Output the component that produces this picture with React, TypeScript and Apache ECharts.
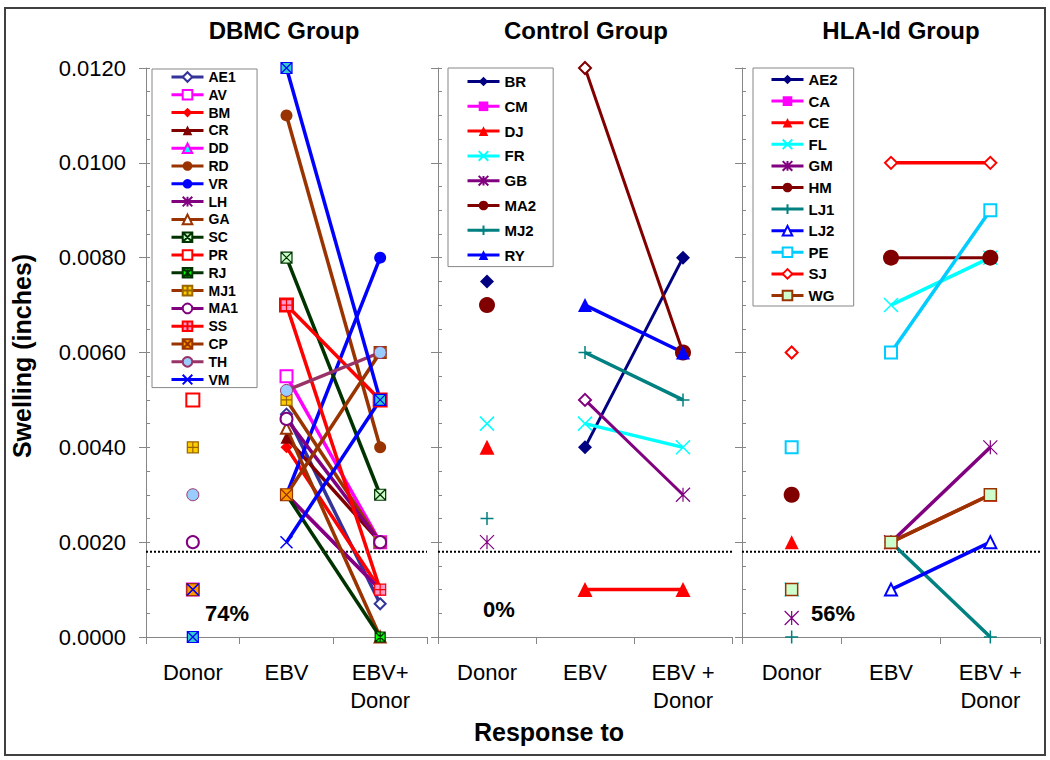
import React, { useEffect, useRef } from 'react';
import * as echarts from 'echarts';

// ---------------- data ----------------
const categoriesDBMC = ['Donor', 'EBV', 'EBV+\nDonor'];
const categoriesOther = ['Donor', 'EBV', 'EBV +\nDonor'];
const groupTitles = ['DBMC Group', 'Control Group', 'HLA-Id Group'];
const responseRates = ['74%', '0%', '56%'];
const threshold = 0.0018;
const yMin = 0;
const yMax = 0.012;
const yInterval = 0.002;

const dbmcNames = ['AE1', 'AV', 'BM', 'CR', 'DD', 'RD', 'VR', 'LH', 'GA', 'SC', 'PR', 'RJ', 'MJ1', 'MA1', 'SS', 'CP', 'TH', 'VM', 'unlisted'];
const dbmcDonor = [null, 0.001, null, null, 0, null, null, 0, null, null, 0.005, 0, 0.004, 0.002, null, 0.001, 0.003, 0.001, 0];
const dbmcEbv = [0.0047, 0.0055, 0.004, 0.0042, 0.003, 0.011, 0.003, 0.003, 0.0044, 0.008, 0.007, 0.003, 0.005, 0.0046, 0.007, 0.003, 0.0052, 0.002, 0.012];
const dbmcEbvDonor = [0.0007, 0.002, 0.001, 0.002, 0.001, 0.004, 0.008, 0.001, 0, 0.003, 0.005, 0, 0.002, 0.002, 0.001, 0.006, 0.006, 0.005, 0.005];

const ctrlNames = ['BR', 'CM', 'DJ', 'FR', 'GB', 'MA2', 'MJ2', 'RY'];
const ctrlDonor = [0.0075, null, 0.004, 0.0045, 0.002, 0.007, 0.0025, null];
const ctrlEbv = [0.004, null, 0.001, 0.0045, 0.005, 0.012, 0.006, 0.007];
const ctrlEbvDonor = [0.008, null, 0.001, 0.004, 0.003, 0.006, 0.005, 0.006];

const hlaNames = ['AE2', 'CA', 'CE', 'FL', 'GM', 'HM', 'LJ1', 'LJ2', 'PE', 'SJ', 'WG'];
const hlaDonor = [null, null, 0.002, 0.001, 0.0004, 0.003, 0, null, 0.004, 0.006, 0.001];
const hlaEbv = [null, null, 0.002, 0.007, 0.002, 0.008, 0.002, 0.001, 0.006, 0.01, 0.002];
const hlaEbvDonor = [null, null, 0.003, 0.008, 0.004, 0.008, 0, 0.002, 0.009, 0.01, 0.003];

// ---------------- styles ----------------
const FONT = '"Liberation Sans", Arial, Helvetica, sans-serif';
const X = 'path://M0,0L10,10M10,0L0,10';
const PLUS = 'path://M5,0L5,10M0,5L10,5';
const STAR = 'path://M0,0L10,10M10,0L0,10M5,0L5,10';
const BOX_X = 'path://M0,0L10,0L10,10L0,10ZM0,0L10,10M10,0L0,10';
const BOX_PLUS = 'path://M0,0L10,0L10,10L0,10ZM5,0L5,10M0,5L10,5';
const BOX_STAR = 'path://M0,0L10,0L10,10L0,10ZM0,0L10,10M10,0L0,10M5,0L5,10';

type St = { line: string; symbol: string; size: number; fill?: string; border?: string; bw?: number; width?: number; ebvSymbol?: string; ebvSize?: number };

const styles: Record<string, St> = {
  AE1: { line: '#333399', symbol: 'emptyDiamond', size: 11 },
  AV: { line: '#FF00FF', symbol: 'emptyRect', size: 12 },
  BM: { line: '#FF0000', symbol: 'diamond', size: 12 },
  CR: { line: '#800000', symbol: 'triangle', size: 12 },
  DD: { line: '#FF00FF', symbol: 'triangle', size: 11, fill: '#00FFFF', border: '#FF00FF', bw: 1 },
  RD: { line: '#993300', symbol: 'circle', size: 12 },
  VR: { line: '#0000FF', symbol: 'circle', size: 12 },
  LH: { line: '#800080', symbol: STAR, size: 11, bw: 1.5 },
  GA: { line: '#993300', symbol: 'emptyTriangle', size: 11 },
  SC: { line: '#003300', symbol: BOX_X, size: 11, fill: '#CCFFCC', border: '#003300', bw: 1.2 },
  PR: { line: '#FF0000', symbol: 'emptyRect', size: 13 },
  RJ: { line: '#003300', symbol: BOX_STAR, size: 10, fill: '#00FF00', border: '#003300', bw: 1.2 },
  MJ1: { line: '#993300', symbol: BOX_PLUS, size: 11, fill: '#FFCC00', border: '#996600', bw: 1.2 },
  MA1: { line: '#800080', symbol: 'emptyCircle', size: 12 },
  SS: { line: '#FF0000', symbol: BOX_PLUS, size: 11, fill: '#FF99CC', border: '#FF0000', bw: 1.2 },
  CP: { line: '#993300', symbol: BOX_X, size: 12, fill: '#FF9900', border: '#993300', bw: 1.2 },
  TH: { line: '#993366', symbol: 'circle', size: 12, fill: '#99CCFF', border: '#993366', bw: 1 },
  VM: { line: '#0000FF', symbol: X, size: 12, bw: 1.5 },
  unlisted: { line: '#0000FF', symbol: BOX_X, size: 11, fill: '#33CCCC', border: '#0000FF', bw: 1.2 },

  BR: { line: '#000080', symbol: 'diamond', size: 14, width: 3 },
  CM: { line: '#FF00FF', symbol: 'rect', size: 11 },
  DJ: { line: '#FF0000', symbol: 'triangle', size: 15 },
  FR: { line: '#00FFFF', symbol: X, size: 14, bw: 1.5 },
  GB: { line: '#800080', symbol: STAR, size: 14, bw: 1.2, width: 3, ebvSymbol: 'emptyDiamond', ebvSize: 12 },
  MA2: { line: '#800000', symbol: 'circle', size: 16, width: 3, ebvSymbol: 'emptyDiamond', ebvSize: 12 },
  MJ2: { line: '#008080', symbol: PLUS, size: 13, bw: 1.5 },
  RY: { line: '#0000FF', symbol: 'triangle', size: 14 },

  AE2: { line: '#000080', symbol: 'diamond', size: 12 },
  CA: { line: '#FF00FF', symbol: 'rect', size: 11 },
  CE: { line: '#FF0000', symbol: 'triangle', size: 14 },
  FL: { line: '#00FFFF', symbol: X, size: 14, bw: 1.5 },
  GM: { line: '#800080', symbol: STAR, size: 14, bw: 1.2 },
  HM: { line: '#800000', symbol: 'circle', size: 16, width: 3 },
  LJ1: { line: '#008080', symbol: PLUS, size: 13, bw: 1.5 },
  LJ2: { line: '#0000FF', symbol: 'emptyTriangle', size: 12 },
  PE: { line: '#00CCFF', symbol: 'emptyRect', size: 12 },
  SJ: { line: '#FF0000', symbol: 'emptyDiamond', size: 12 },
  WG: { line: '#993300', symbol: 'rect', size: 12, fill: '#CCFFCC', border: '#993300', bw: 1.5 },
};

const grids = [
  { left: 146, top: 68, width: 281, height: 569 },
  { left: 438, top: 68, width: 294, height: 569 },
  { left: 742, top: 68, width: 298, height: 569 },
];

function buildGroup(gi: number, names: string[], donor: (number | null)[], ebv: (number | null)[], ebvd: (number | null)[]) {
  const out: any[] = [];
  names.forEach((n, j) => {
    const st = styles[n];
    const base: any = {
      name: n,
      type: 'line',
      xAxisIndex: gi,
      yAxisIndex: gi * 2,
      symbol: st.symbol,
      symbolSize: st.size,
      showAllSymbol: true,
      connectNulls: false,
      silent: true,
      emphasis: { disabled: true },
      itemStyle: { color: st.fill ?? st.line, borderColor: st.border ?? st.line, borderWidth: st.bw ?? 0 },
      lineStyle: { color: st.line, width: st.width ?? 3.5 },
    };
    const ev = ebv[j];
    const ed = ebvd[j];
    const ebvItem =
      st.ebvSymbol && ev != null
        ? { value: ev, symbol: st.ebvSymbol, symbolSize: st.ebvSize, itemStyle: { color: st.line, borderColor: st.line, borderWidth: 1.5 } }
        : ev;
    out.push({ ...base, data: [null, ebvItem, ed] });
    if (donor[j] != null) out.push({ ...base, data: [donor[j], null, null] });
  });
  return out;
}

function legendFor(names: string[], left: number, top: number, fontSize: number, gap: number, padding: number[]) {
  return {
    data: names,
    orient: 'vertical',
    left,
    top,
    itemWidth: 32,
    itemHeight: 12,
    itemGap: gap,
    padding,
    selectedMode: false,
    backgroundColor: '#fff',
    borderColor: '#868686',
    borderWidth: 1,
    borderRadius: 0,
    lineStyle: { width: 3 },
    textStyle: { fontSize, fontWeight: 'bold', fontFamily: FONT, color: '#000', lineHeight: fontSize },
  };
}

export default function App() {
  const ref = useRef<HTMLDivElement>(null);
  useEffect(() => {
    if (!ref.current) return;
    const chart = echarts.init(ref.current, null, { renderer: 'svg' });

    const cats = [categoriesDBMC, categoriesOther, categoriesOther];
    const xAxis: any[] = grids.map((_, gi) => ({
      type: 'category',
      gridIndex: gi,
      data: cats[gi],
      boundaryGap: true,
      axisLine: { lineStyle: { color: '#868686', width: 1 } },
      axisTick: { show: true, length: 7, interval: 0, lineStyle: { color: '#868686' } },
      axisLabel: { interval: 0, fontSize: 22, color: '#000', fontFamily: FONT, margin: 21, lineHeight: 28 },
      splitLine: { show: false },
    }));
    // hidden value x axes (one per grid) for the threshold line spanning the panel width
    grids.forEach((_, gi) => {
      xAxis.push({
        type: 'value',
        gridIndex: gi,
        min: 0,
        max: 1,
        show: false,
        splitLine: { show: false },
      });
    });
    const yAxis: any[] = [];
    grids.forEach((_, gi) => {
      yAxis.push({
        type: 'value',
        gridIndex: gi,
        min: yMin,
        max: yMax,
        interval: yInterval,
        axisLine: { show: true, lineStyle: { color: '#868686', width: 1 } },
        axisTick: { show: true, length: 7, lineStyle: { color: '#868686' } },
        axisLabel: {
          show: gi === 0,
          fontSize: 22,
          color: '#000',
          fontFamily: FONT,
          margin: 20,
          formatter: (v: number) => v.toFixed(4),
        },
        splitLine: { show: false },
      });
      yAxis.push({
        type: 'value',
        gridIndex: gi,
        min: yMin,
        max: yMax,
        interval: 0.0005,
        position: 'left',
        axisLine: { show: false },
        axisTick: { show: true, inside: true, length: 4, lineStyle: { color: '#868686' } },
        axisLabel: { show: false },
        splitLine: { show: false },
      });
    });

    const series: any[] = [];
    grids.forEach((_, gi) => {
      series.push({
        type: 'line',
        name: 'threshold',
        xAxisIndex: 3 + gi,
        yAxisIndex: gi * 2,
        data: [
          [0, threshold],
          [1, threshold],
        ],
        symbol: 'none',
        silent: true,
        emphasis: { disabled: true },
        lineStyle: { color: '#000', type: 'dotted', width: 2 },
        z: 1,
      });
    });
    series.push(
      ...buildGroup(0, dbmcNames, dbmcDonor, dbmcEbv, dbmcEbvDonor),
      ...buildGroup(1, ctrlNames, ctrlDonor, ctrlEbv, ctrlEbvDonor),
      ...buildGroup(2, hlaNames, hlaDonor, hlaEbv, hlaEbvDonor),
    );

    const titleX = [284, 586, 901];
    const rateX = [205, 483, 811];
    const rateY = [613, 609, 613];

    const graphic: any[] = [
      {
        type: 'rect',
        shape: { x: 5, y: 8, width: 1040, height: 747 },
        style: { fill: 'none', stroke: '#404040', lineWidth: 2 },
        silent: true,
      },
      {
        type: 'text',
        x: 22,
        y: 356,
        rotation: Math.PI / 2,
        style: { text: 'Swelling (inches)', fontSize: 25, fontWeight: 'bold', fontFamily: FONT, fill: '#000', align: 'center', verticalAlign: 'middle' },
      },
      {
        type: 'text',
        x: 549,
        y: 732,
        style: { text: 'Response to', fontSize: 25, fontWeight: 'bold', fontFamily: FONT, fill: '#000', align: 'center', verticalAlign: 'middle' },
      },
    ];
    groupTitles.forEach((t, i) => {
      graphic.push({
        type: 'text',
        x: titleX[i],
        y: 30,
        style: { text: t, fontSize: 24, fontWeight: 'bold', fontFamily: FONT, fill: '#000', align: 'center', verticalAlign: 'middle' },
      });
    });
    responseRates.forEach((t, i) => {
      graphic.push({
        type: 'text',
        x: rateX[i],
        y: rateY[i],
        z: 100,
        style: { text: t, fontSize: 22, fontWeight: 'bold', fontFamily: FONT, fill: '#000', align: 'left', verticalAlign: 'middle' },
      });
    });

    chart.setOption({
      animation: false,
      backgroundColor: '#fff',
      grid: grids,
      xAxis,
      yAxis,
      legend: [
        legendFor(dbmcNames.filter((n) => n !== 'unlisted'), 152, 69, 14, 3.8, [1, 19, 1, 18]),
        legendFor(ctrlNames, 448, 68, 15, 9.8, [6, 17, 4, 18]),
        legendFor(hlaNames, 753, 68, 15, 6.6, [4, 16, 3, 17]),
      ],
      series,
      graphic,
    });
    return () => chart.dispose();
  }, []);
  return <div ref={ref} style={{ position: 'fixed', left: 0, top: 0, width: 1050, height: 760, background: '#fff' }} />;
}
